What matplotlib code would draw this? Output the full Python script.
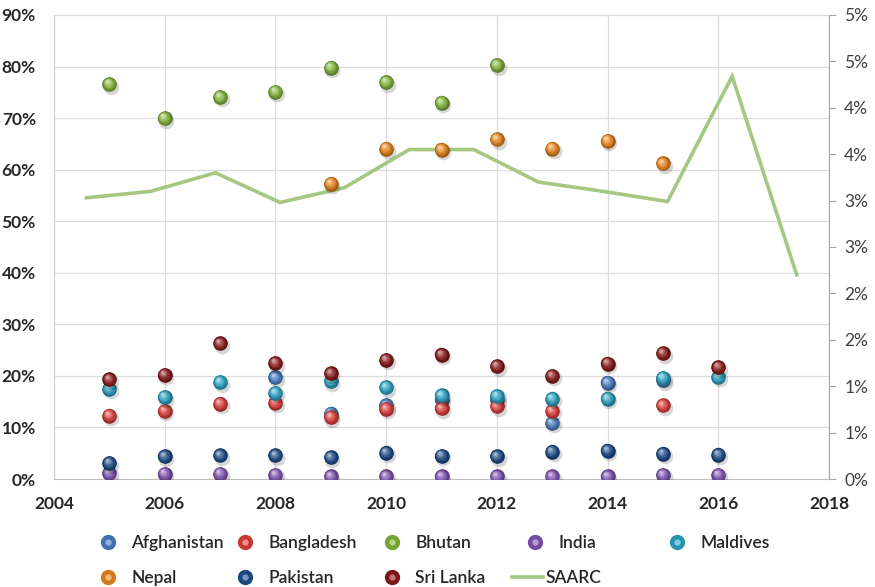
import numpy as np
import matplotlib
matplotlib.use("Agg")
import matplotlib.pyplot as plt
import matplotlib.transforms as mtransforms
from matplotlib.colors import to_rgb
from matplotlib.lines import Line2D
from matplotlib.legend_handler import HandlerTuple
from matplotlib.ticker import FixedLocator, FuncFormatter

# ---- data -------------------------------------------------------------
years = [2005, 2006, 2007, 2008, 2009, 2010, 2011, 2012, 2013, 2014, 2015, 2016]
nan = np.nan
afghanistan = [nan, nan, nan, 19.7, 12.7, 14.3, 15.4, 15.4, 10.9, 18.7, 19.2, nan]
bangladesh = [12.3, 13.2, 14.6, 14.8, 12.0, 13.6, 13.7, 14.1, 13.2, nan, 14.3, nan]
bhutan = [76.6, 70.0, 74.1, 75.1, 79.8, 77.0, 73.0, 80.3, nan, nan, nan, nan]
india = [1.1, 1.0, 1.0, 0.8, 0.5, 0.5, 0.5, 0.5, 0.5, 0.5, 0.8, 0.8]
maldives = [17.5, 15.9, 18.8, 16.7, 19.0, 17.8, 16.2, 16.1, 15.6, 15.6, 19.6, 19.8]
nepal = [nan, nan, nan, nan, 57.3, 64.1, 63.9, 65.9, 64.1, 65.6, 61.2, nan]
pakistan = [3.1, 4.4, 4.6, 4.6, 4.2, 5.1, 4.5, 4.4, 5.3, 5.5, 4.9, 4.7]
sri_lanka = [19.3, 20.2, 26.3, 22.5, 20.5, 23.1, 24.1, 21.9, 20.0, 22.4, 24.4, 21.7]
saarc = [3.03, 3.10, 3.30, 2.98, 3.14, 3.55, 3.55, 3.20, 3.10, 2.99, 4.34, 2.20]

series_names = ["Afghanistan", "Bangladesh", "Bhutan", "India", "Maldives",
                "Nepal", "Pakistan", "Sri Lanka"]
series_values = [afghanistan, bangladesh, bhutan, india, maldives,
                 nepal, pakistan, sri_lanka]
series_colors = ["#4A80C8", "#E2403C", "#86BA3C", "#8458B8", "#2EA8C8",
                 "#F08A1E", "#1F4E8C", "#8C1A1A"]
saarc_color = "#A4C882"

x_ticks = [2004, 2006, 2008, 2010, 2012, 2014, 2016, 2018]
left_ticks = [0, 10, 20, 30, 40, 50, 60, 70, 80, 90]
right_ticks = [0, 0.5, 1.0, 1.5, 2.0, 2.5, 3.0, 3.5, 4.0, 4.5, 5.0]

plt.rcParams["font.family"] = ["Lato", "DejaVu Sans"]

fig = plt.figure(figsize=(8.75, 5.87), dpi=100)
rect = [54 / 875, 1 - 479 / 587, (829 - 54) / 875, (479 - 15) / 587]
ax = fig.add_axes(rect)
ax.set_zorder(2)
ax.patch.set_visible(False)

# secondary axes: category positions for the SAARC line, right-hand scale
ax2 = fig.add_axes(rect)
ax2.set_zorder(1)
ax2.set_xlim(-0.5, len(years) - 0.5)
ax2.set_ylim(0, 5)
ax2.xaxis.set_visible(False)
ax2.yaxis.tick_right()
for side in ("left", "top", "bottom"):
    ax2.spines[side].set_visible(False)
ax2.spines["right"].set_color("#A6A6A6")
ax2.yaxis.set_major_locator(FixedLocator(right_ticks))
ax2.yaxis.set_major_formatter(FuncFormatter(lambda v, p: f"{int(np.floor(v + 0.5 + 1e-9))}%"))
ax2.tick_params(axis="y", length=5, width=0.8, color="#A6A6A6", pad=6,
                labelsize=12.5, labelcolor="#404040")

ax.set_xlim(2004, 2018)
ax.set_ylim(0, 90)
ax.xaxis.set_major_locator(FixedLocator(x_ticks))
ax.yaxis.set_major_locator(FixedLocator(left_ticks))
ax.yaxis.set_major_formatter(FuncFormatter(lambda v, p: f"{int(v)}%"))
ax.grid(True, color="#DCDCDC", lw=0.9, zorder=0)
ax.set_axisbelow(True)
for side in ("top", "right"):
    ax.spines[side].set_visible(False)
ax.spines["left"].set_color("#D0D0D0")
ax.spines["bottom"].set_color("#BFBFBF")
ax.tick_params(axis="both", length=0, labelsize=12.5, labelcolor="#262626")
ax.tick_params(axis="y", pad=13)
ax.tick_params(axis="x", pad=12)
for lab in ax.get_xticklabels() + ax.get_yticklabels():
    lab.set_fontweight("bold")

# SAARC line drawn with the secondary scale, beneath the markers
ax.plot(np.arange(len(years)), saarc, color=saarc_color, lw=2.6,
        transform=ax2.transData, zorder=1, solid_joinstyle="miter")


def mix(c1, c2, t):
    a, b = np.array(to_rgb(c1)), np.array(to_rgb(c2))
    return tuple(a + (b - a) * t)


def offset(dx, dy):
    return ax.transData + mtransforms.ScaledTranslation(dx / 72, dy / 72, fig.dpi_scale_trans)


def sphere(xs, ys, color, z):
    size = 110
    # soft shadow
    ax.scatter(xs, ys, s=size * 1.15, color="black", alpha=0.16, lw=0,
               transform=offset(1.2, -1.8), zorder=z)
    dark = mix(color, "black", 0.35)
    ax.scatter(xs, ys, s=size, color=dark, lw=0, zorder=z + 0.01)
    steps = 9
    for i in range(1, steps + 1):
        t = i / steps
        c = mix(mix(color, "black", 0.35 * (1 - t) ** 2), "white", 0.6 * t ** 2.2)
        sz = max(size * (1 - 0.9 * t) ** 1.6, 4)
        ax.scatter(xs, ys, s=sz, color=c, lw=0, zorder=z + 0.01 + i * 0.001,
                   transform=offset(-1.6 * t, 1.9 * t))


for k, (vals, col) in enumerate(zip(series_values, series_colors)):
    sphere(years, vals, col, 3 + k * 0.1)

# legend laid out as five columns, filled row by row
handles = []
for col in series_colors:
    handles.append((Line2D([], [], ls="none", marker="o", ms=11, mew=0,
                           color=mix(col, "black", 0.12)),
                    Line2D([], [], ls="none", marker="o", ms=4.5, mew=0,
                           color=mix(col, "white", 0.4))))
saarc_handle = Line2D([], [], color=saarc_color, lw=2.6)

columns = [
    ([handles[0], handles[5]], [series_names[0], series_names[5]]),
    ([handles[1], handles[6]], [series_names[1], series_names[6]]),
    ([handles[2], handles[7]], [series_names[2], series_names[7]]),
    ([handles[3]], [series_names[3]]),
    ([handles[4]], [series_names[4]]),
]
col_x = [94, 231, 378, 521, 663]
legend_top = 1 - 535 / 587
for (hs, ls), xpos in zip(columns, col_x):
    fig.legend(hs, ls, loc="upper left", bbox_to_anchor=(xpos / 875, legend_top),
               frameon=False, handlelength=1.6, handletextpad=0.55,
               labelspacing=1.1, borderaxespad=0, borderpad=0,
               handler_map={tuple: HandlerTuple(ndivide=1, pad=0)},
               prop={"weight": "semibold", "size": 12.5})
fig.legend([saarc_handle], ["SAARC"], loc="upper left",
           bbox_to_anchor=(512 / 875, 1 - 570 / 587), frameon=False,
           handlelength=1.8, handletextpad=0.12, borderaxespad=0, borderpad=0,
           prop={"weight": "semibold", "size": 12.5})

for lg in fig.legends:
    for t in lg.get_texts():
        t.set_color("#262626")

fig.savefig("out.png", dpi=100)
